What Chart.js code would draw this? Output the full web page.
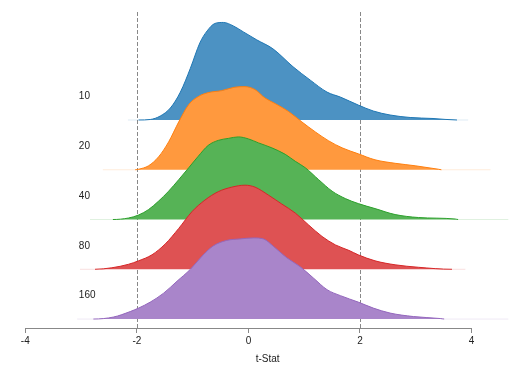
<!DOCTYPE html>
<html>
<head>
<meta charset="utf-8">
<script src="https://cdn.jsdelivr.net/npm/chart.js@4/dist/chart.umd.min.js"></script>
<style>
  html, body { margin: 0; padding: 0; background: #fff; }
  #wrap { width: 528px; height: 384px; }
</style>
</head>
<body>
<div id="wrap"><canvas id="ridges"></canvas></div>
<script>
// --- datos ---
const groups = ['10', '20', '40', '80', '160'];
const xTicks = [-4, -2, 0, 2, 4];
const cutoffs = [-2, 2];

// t-stat y altura de cada cresta (1 = separación entre crestas)
const t10 = [-2.16, -1.97, -1.76, -1.58, -1.40, -1.22, -1.04, -0.87, -0.74, -0.60, -0.45, -0.27, -0.09, 0.15, 0.44, 0.80, 1.11, 1.41, 1.65, 1.97, 2.24, 2.54, 2.90, 3.31, 3.74, 3.94];
const d10 = [0, 0, 0.01, 0.08, 0.24, 0.56, 1.04, 1.55, 1.79, 1.94, 1.96, 1.89, 1.77, 1.61, 1.43, 1.07, 0.80, 0.56, 0.46, 0.30, 0.18, 0.10, 0.05, 0.03, 0, 0];

const t20 = [-2.61, -2.03, -1.97, -1.79, -1.61, -1.43, -1.25, -1.07, -0.90, -0.72, -0.48, -0.24, -0.06, 0.12, 0.30, 0.48, 0.72, 0.96, 1.20, 1.44, 1.68, 1.97, 2.27, 2.63, 2.99, 3.41, 3.46, 4.34];
const d20 = [0, 0, 0.01, 0.08, 0.26, 0.56, 0.96, 1.31, 1.47, 1.55, 1.59, 1.66, 1.67, 1.61, 1.44, 1.33, 1.17, 0.96, 0.76, 0.58, 0.44, 0.32, 0.20, 0.13, 0.08, 0.01, 0, 0];

const t40 = [-2.84, -2.43, -2.15, -1.97, -1.79, -1.61, -1.43, -1.25, -1.07, -0.90, -0.72, -0.54, -0.36, -0.18, 0.00, 0.18, 0.42, 0.66, 0.84, 1.02, 1.26, 1.50, 1.74, 1.97, 2.27, 2.63, 3.05, 3.71, 3.76, 4.66];
const d40 = [0, 0, 0.03, 0.09, 0.20, 0.37, 0.57, 0.80, 1.04, 1.27, 1.49, 1.59, 1.63, 1.66, 1.62, 1.54, 1.44, 1.31, 1.17, 1.04, 0.80, 0.57, 0.42, 0.32, 0.22, 0.10, 0.04, 0.01, 0, 0];

const t80 = [-3.02, -2.75, -2.45, -2.15, -1.97, -1.73, -1.49, -1.25, -1.01, -0.78, -0.54, -0.30, -0.06, 0.12, 0.36, 0.60, 0.84, 1.08, 1.32, 1.56, 1.80, 1.97, 2.27, 2.63, 3.05, 3.65, 3.89];
const d80 = [0, 0, 0.03, 0.10, 0.17, 0.29, 0.51, 0.82, 1.16, 1.39, 1.56, 1.65, 1.69, 1.65, 1.49, 1.31, 1.13, 0.89, 0.66, 0.49, 0.38, 0.29, 0.17, 0.09, 0.04, 0, 0];

const t160 = [-3.07, -2.78, -2.42, -2.12, -1.97, -1.76, -1.52, -1.28, -1.04, -0.81, -0.63, -0.39, -0.15, 0.09, 0.27, 0.45, 0.69, 0.93, 1.17, 1.41, 1.65, 1.97, 2.24, 2.54, 2.96, 3.44, 3.51, 4.66];
const d160 = [0, 0, 0.04, 0.15, 0.22, 0.34, 0.52, 0.76, 1.00, 1.29, 1.47, 1.58, 1.61, 1.63, 1.61, 1.46, 1.23, 1.05, 0.82, 0.59, 0.47, 0.34, 0.22, 0.12, 0.05, 0.01, 0, 0];

const tStats = [t10, t20, t40, t80, t160];
const heights = [d10, d20, d40, d80, d160];

// colores (relleno = color al 80% sobre blanco)
const lineColors = ['#1f77b4', '#ff7f0e', '#2ca02c', '#d62728', '#9467bd'];
const fillColors = ['#4c92c3', '#ff993e', '#56b356', '#de5253', '#a985ca'];
const faintColors = ['rgba(31,119,180,0.15)', 'rgba(255,127,14,0.15)', 'rgba(44,160,44,0.15)', 'rgba(214,39,40,0.15)', 'rgba(148,103,189,0.15)'];

Chart.defaults.font.family = '"Liberation Sans", Arial, sans-serif';

const datasets = groups.map((g, i) => {
    const offset = groups.length - 1 - i;
    return {
        label: g,
        data: tStats[i].map((t, k) => ({ x: t, y: offset + heights[i][k] })),
        borderColor: lineColors[i],
        backgroundColor: fillColors[i],
        borderWidth: 1,
        pointRadius: 0,
        cubicInterpolationMode: 'monotone',
        fill: { value: offset },
        order: offset, // la cresta de abajo se pinta encima
        segment: {
            borderColor: ctx => (ctx.p0.parsed.y === offset && ctx.p1.parsed.y === offset) ? faintColors[i] : lineColors[i]
        }
    };
});

// líneas discontinuas, eje inferior y etiquetas de grupo
const ridgeDecor = {
    id: 'ridgeDecor',
    beforeDatasetsDraw(chart) {
        const { ctx, chartArea, scales } = chart;
        ctx.save();
        ctx.strokeStyle = '#888';
        ctx.lineWidth = 1;
        ctx.setLineDash([4, 2]);
        cutoffs.forEach(c => {
            const x = Math.round(scales.x.getPixelForValue(c)) + 0.5;
            ctx.beginPath();
            ctx.moveTo(x, chartArea.top);
            ctx.lineTo(x, chartArea.bottom);
            ctx.stroke();
        });
        ctx.restore();
    },
    afterDatasetsDraw(chart) {
        const { ctx, chartArea, scales } = chart;
        ctx.save();
        ctx.strokeStyle = '#888';
        ctx.lineWidth = 1;
        const y = Math.round(chartArea.bottom) + 0.5;
        ctx.beginPath();
        ctx.moveTo(scales.x.getPixelForValue(xTicks[0]), y);
        ctx.lineTo(scales.x.getPixelForValue(xTicks[xTicks.length - 1]), y);
        ctx.stroke();

        ctx.fillStyle = '#222';
        ctx.font = '10px "Liberation Sans", Arial, sans-serif';
        ctx.textAlign = 'left';
        ctx.textBaseline = 'middle';
        groups.forEach((g, i) => {
            const offset = groups.length - 1 - i;
            ctx.fillText(g, scales.x.getPixelForValue(-3.04), scales.y.getPixelForValue(offset + 0.47));
        });
        ctx.restore();
    }
};

new Chart(document.getElementById('ridges'), {
    type: 'line',
    data: { datasets },
    options: {
        responsive: true, maintainAspectRatio: false,
        animation: false,
        layout: { padding: { left: 25.3, right: 18, top: 12, bottom: 19 } },
        scales: {
            x: {
                type: 'linear', min: -4, max: 4.69,
                afterBuildTicks: scale => { scale.ticks = xTicks.map(v => ({ value: v })); },
                border: { display: false },
                grid: { display: true, drawOnChartArea: false, drawTicks: true, tickLength: 5, color: '#888' },
                ticks: { color: '#222', font: { size: 10 }, padding: 2, maxRotation: 0, callback: v => String(v) },
                title: { display: true, text: 't-Stat', color: '#222', font: { size: 10 }, padding: { top: 4, bottom: 0 } }
            },
            y: { display: false, min: -0.18, max: 6.17 }
        },
        plugins: { legend: { display: false }, tooltip: { enabled: false } }
    },
    plugins: [ridgeDecor]
});
</script>
</body>
</html>
